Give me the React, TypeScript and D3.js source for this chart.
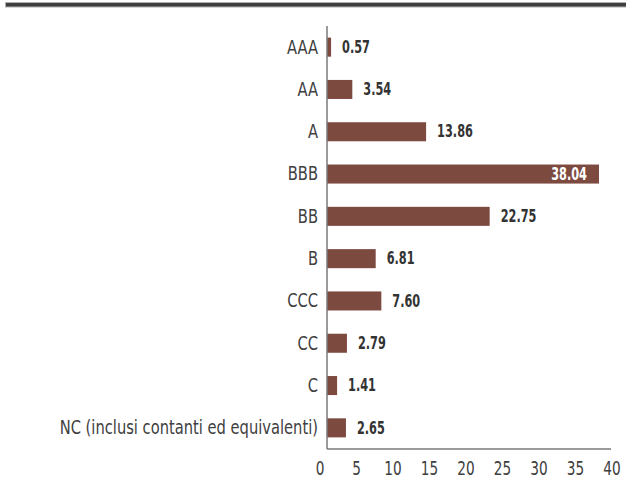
import React from "react"
import * as d3 from "d3"

const categories = ["AAA", "AA", "A", "BBB", "BB", "B", "CCC", "CC", "C", "NC (inclusi contanti ed equivalenti)"]
const values = [0.57, 3.54, 13.86, 38.04, 22.75, 6.81, 7.6, 2.79, 1.41, 2.65]
const xTicks = [0, 5, 10, 15, 20, 25, 30, 35, 40]

const WIDTH = 626
const HEIGHT = 485
const MARGIN = { top: 26, right: 13, bottom: 36, left: 327 }
const FONT = "'DejaVu Sans Condensed', 'DejaVu Sans', sans-serif"
const BAR = "#7d4a40"

const App: React.FC = () => {
    const x = d3.scaleLinear().domain([0, 40]).range([MARGIN.left, WIDTH - MARGIN.right])
    const y = d3
        .scaleBand<string>()
        .domain(categories)
        .range([MARGIN.top, HEIGHT - MARGIN.bottom])
        .paddingInner(0.55)
        .paddingOuter(0.275)

    const bottom = HEIGHT - MARGIN.bottom
    const bw = y.bandwidth()

    return (
        <svg
            width={WIDTH}
            height={HEIGHT}
            style={{ position: "absolute", left: 0, top: 0 }}
            fontFamily={FONT}
        >
            {/* top rule */}
            <rect x={5.5} y={2.5} width={WIDTH} height={4.5} fill="#3f3f3f" stroke="#b0b0b0" strokeWidth={1} />

            {/* bars */}
            {categories.map((c, i) => (
                <rect key={c} x={x(0)} y={y(c)!} width={x(values[i]) - x(0)} height={bw} fill={BAR} />
            ))}

            {/* axes */}
            <line x1={x(0)} x2={x(0)} y1={MARGIN.top} y2={bottom} stroke="#7a7a7a" strokeWidth={1.5} />
            <line x1={x(0)} x2={x(40) - 2} y1={bottom} y2={bottom} stroke="#7a7a7a" strokeWidth={1.5} />

            {/* category labels */}
            {categories.map(c => (
                <text
                    key={c}
                    transform={`translate(${x(0) - 9},${y(c)! + bw / 2}) scale(0.86,1)`}
                    textAnchor="end"
                    dominantBaseline="central"
                    fontSize={19}
                    fill="#404040"
                >
                    {c}
                </text>
            ))}

            {/* value labels */}
            {categories.map((c, i) => {
                const inside = values[i] > 30
                const tx = inside ? x(values[i]) - 12 : x(values[i]) + 11
                return (
                    <text
                        key={c}
                        transform={`translate(${tx},${y(c)! + bw / 2}) scale(0.74,1)`}
                        textAnchor={inside ? "end" : "start"}
                        dominantBaseline="central"
                        fontSize={17}
                        fontWeight="bold"
                        fill={inside ? "#ffffff" : "#333333"}
                    >
                        {values[i].toFixed(2)}
                    </text>
                )
            })}

            {/* x tick labels */}
            {xTicks.map(t => (
                <text
                    key={t}
                    transform={`translate(${x(t) - 7 + t * 0.15},${bottom + 19}) scale(0.8,1)`}
                    textAnchor="middle"
                    dominantBaseline="central"
                    fontSize={19}
                    fill="#404040"
                >
                    {t}
                </text>
            ))}
        </svg>
    )
}

export default App
